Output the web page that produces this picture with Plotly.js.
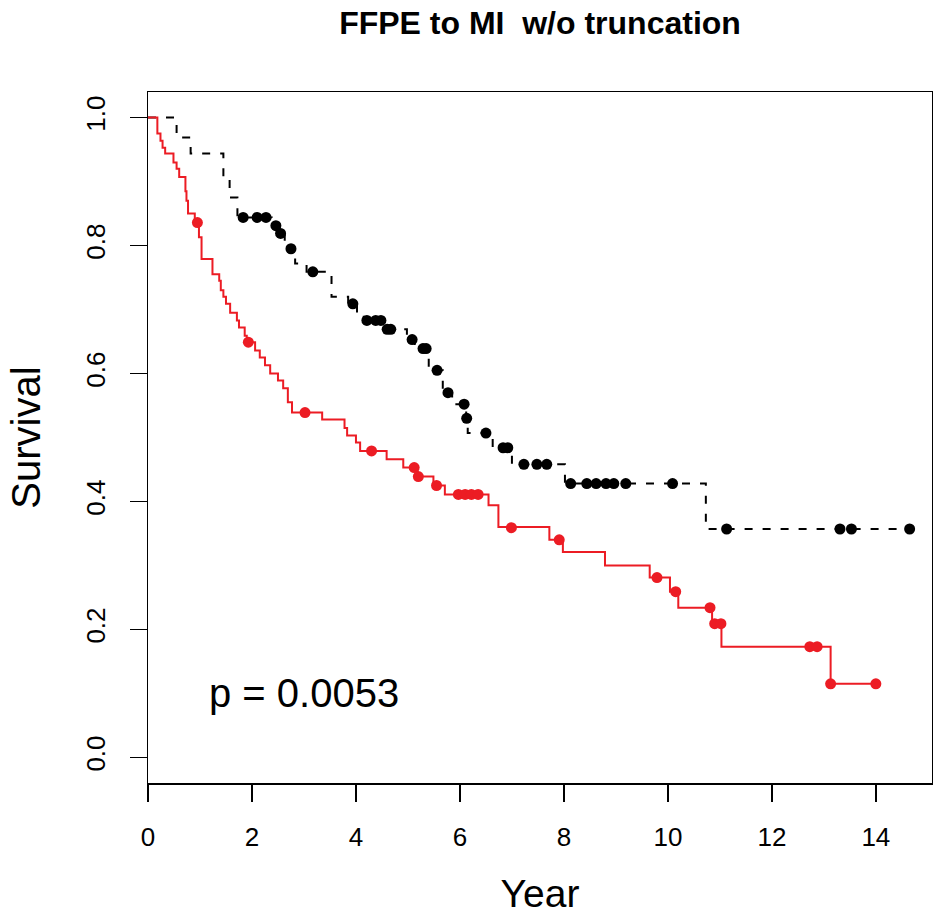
<!DOCTYPE html>
<html>
<head>
<meta charset="utf-8">
<script src="https://cdn.plot.ly/plotly-3.0.1.min.js"></script>
<style>html,body{margin:0;padding:0;background:#fff;}#chart{width:933px;height:915px;}</style>
</head>
<body>
<div id="chart"></div>
<script>
// Black (dashed) group: step function
var blackStepT = [0, 0.55, 0.82, 1.45, 1.57, 1.72, 2.38, 2.52, 2.63, 2.83, 3.05, 3.53, 3.85, 4.02, 4.15, 4.58, 4.98, 5.13, 5.40, 5.67, 5.85, 6.12, 6.15, 6.63, 7.00, 8.02, 10.73, 14.65];
var blackStepS = [1.0, 0.969, 0.944, 0.906, 0.875, 0.844, 0.831, 0.819, 0.795, 0.772, 0.759, 0.720, 0.709, 0.695, 0.683, 0.669, 0.653, 0.639, 0.605, 0.570, 0.552, 0.530, 0.507, 0.484, 0.458, 0.428, 0.357, 0.357];
// Black censor marks
var blackCensT = [1.83, 2.10, 2.27, 2.46, 2.55, 2.75, 3.17, 3.94, 4.21, 4.38, 4.48, 4.60, 4.67, 5.08, 5.29, 5.35, 5.56, 5.77, 6.08, 6.13, 6.50, 6.83, 6.92, 7.23, 7.48, 7.67, 8.13, 8.44, 8.62, 8.81, 8.96, 9.19, 10.09, 11.13, 13.31, 13.53, 14.65];
var blackCensS = [0.844, 0.844, 0.844, 0.831, 0.819, 0.795, 0.759, 0.709, 0.683, 0.683, 0.683, 0.669, 0.669, 0.653, 0.639, 0.639, 0.605, 0.570, 0.552, 0.530, 0.507, 0.484, 0.484, 0.458, 0.458, 0.458, 0.428, 0.428, 0.428, 0.428, 0.428, 0.428, 0.428, 0.357, 0.357, 0.357, 0.357];

// Red (solid) group: step function
var redStepT = [0, 0.18, 0.24, 0.28, 0.33, 0.49, 0.55, 0.60, 0.72, 0.74, 0.77, 0.90, 0.98, 1.03, 1.24, 1.37, 1.40, 1.45, 1.50, 1.58, 1.71, 1.75, 1.86, 1.90, 2.06, 2.15, 2.25, 2.35, 2.50, 2.60, 2.69, 2.77, 3.35, 3.78, 3.83, 4.00, 4.08, 4.59, 4.91, 5.18, 5.49, 5.71, 6.55, 6.74, 7.72, 7.98, 8.79, 9.65, 10.04, 10.20, 10.85, 11.03, 13.13, 14.00];
var redStepS = [1.0, 0.975, 0.964, 0.953, 0.944, 0.930, 0.920, 0.907, 0.885, 0.870, 0.850, 0.836, 0.813, 0.779, 0.755, 0.745, 0.730, 0.720, 0.709, 0.695, 0.683, 0.672, 0.659, 0.649, 0.636, 0.625, 0.613, 0.600, 0.589, 0.577, 0.555, 0.539, 0.528, 0.515, 0.503, 0.492, 0.479, 0.466, 0.453, 0.439, 0.425, 0.411, 0.394, 0.360, 0.340, 0.321, 0.300, 0.281, 0.259, 0.234, 0.209, 0.173, 0.115, 0.115];
// Red censor marks
var redCensT = [0.95, 1.93, 3.02, 4.30, 5.12, 5.20, 5.55, 5.97, 6.10, 6.22, 6.35, 6.99, 7.91, 9.79, 10.15, 10.81, 10.90, 11.02, 12.73, 12.87, 13.13, 14.00];
var redCensS = [0.836, 0.649, 0.539, 0.479, 0.453, 0.439, 0.425, 0.411, 0.411, 0.411, 0.411, 0.359, 0.340, 0.281, 0.259, 0.234, 0.209, 0.209, 0.173, 0.173, 0.115, 0.115];

var xTicks = [0, 2, 4, 6, 8, 10, 12, 14];
var yTicks = [0.0, 0.2, 0.4, 0.6, 0.8, 1.0];
var yTickText = ['0.0', '0.2', '0.4', '0.6', '0.8', '1.0'];

var titleText = 'FFPE to MI  w/o truncation';
var xTitle = 'Year';
var yTitle = 'Survival';
var pText = 'p = 0.0053';
var pX = 3.0, pY = 0.1;

var RED = '#EC1C24';
var FONT = 'Liberation Sans, Arial, Helvetica, sans-serif';

var traces = [
  {x: blackStepT, y: blackStepS, type: 'scatter', mode: 'lines',
   line: {shape: 'hv', color: '#000', width: 2, dash: '8px,10px'}, hoverinfo: 'skip'},
  {x: redStepT, y: redStepS, type: 'scatter', mode: 'lines',
   line: {shape: 'hv', color: RED, width: 2}, hoverinfo: 'skip'},
  {x: blackCensT, y: blackCensS, type: 'scatter', mode: 'markers',
   marker: {symbol: 'circle', size: 11, color: '#000'}, hoverinfo: 'skip'},
  {x: redCensT, y: redCensS, type: 'scatter', mode: 'markers',
   marker: {symbol: 'circle', size: 11, color: RED}, hoverinfo: 'skip'}
];

var layout = {
  width: 933, height: 915,
  margin: {l: 148, r: 1, t: 92, b: 132, pad: 0},
  paper_bgcolor: '#fff', plot_bgcolor: '#fff',
  showlegend: false,
  font: {family: FONT, color: '#000'},
  title: {text: '<b>' + titleText + '</b>', font: {family: FONT, size: 32, color: '#000'},
          x: 0.5, xref: 'paper', y: 0.975, yref: 'container', yanchor: 'middle'},
  xaxis: {
    range: [0, 15.08], autorange: false,
    tickmode: 'array', tickvals: xTicks, ticktext: xTicks.map(String),
    ticks: 'outside', ticklen: 17, tickwidth: 1.5, tickcolor: '#000',
    ticklabelstandoff: 13,
    tickfont: {family: FONT, size: 26, color: '#000'},
    showline: true, linecolor: '#000', linewidth: 1.5, mirror: true,
    showgrid: false, zeroline: false,
    title: {text: xTitle, font: {family: FONT, size: 39, color: '#000'}, standoff: 30}
  },
  yaxis: {
    range: [-0.04, 1.04], autorange: false,
    tickmode: 'array', tickvals: yTicks, ticktext: yTickText,
    tickangle: -90,
    ticks: 'outside', ticklen: 17, tickwidth: 1.5, tickcolor: '#000',
    ticklabelstandoff: 14,
    tickfont: {family: FONT, size: 26, color: '#000'},
    showline: true, linecolor: '#000', linewidth: 1.5, mirror: true,
    showgrid: false, zeroline: false,
    title: {text: yTitle, font: {family: FONT, size: 40, color: '#000'}, standoff: 28}
  },
  annotations: [
    {x: pX, y: pY, xref: 'x', yref: 'y', text: pText, showarrow: false,
     xanchor: 'center', yanchor: 'middle', font: {family: FONT, size: 40, color: '#000'}}
  ]
};

Plotly.newPlot('chart', traces, layout, {staticPlot: true, displayModeBar: false});
</script>
</body>
</html>
